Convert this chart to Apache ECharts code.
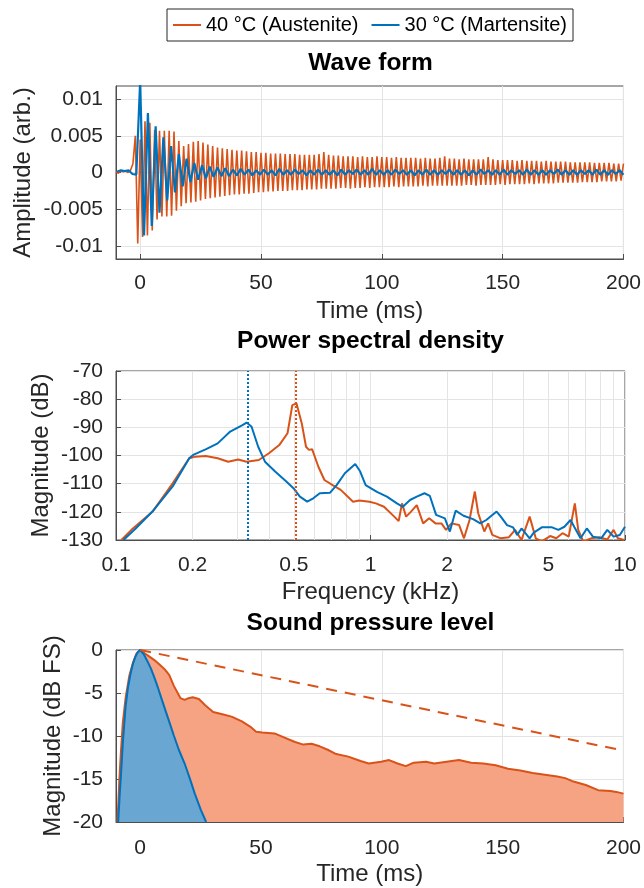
<!DOCTYPE html>
<html>
<head>
<meta charset="utf-8">
<script src="https://cdn.jsdelivr.net/npm/echarts@6/dist/echarts.min.js"></script>
<style>
html, body { margin: 0; background: #fff; }
#chart { width: 644px; height: 888px; }
</style>
</head>
<body>
<div id="chart"></div>
<script>
// ---- data ----
const NAME_A = '40 °C (Austenite)';
const NAME_M = '30 °C (Martensite)';

// wave form: orange sampled every 1 ms from -10 ms (one peak / trough per sample)
const WAVE_A_T0 = -10, WAVE_A_DT = 1;
const WAVE_A = [
  0.0001, -0.0001, 0.0002, 0.0001, 0.0002, 0.0000, 0.0003, 0.0012, 0.0050, -0.0097,
  0.0045, -0.0088, 0.0070, -0.0086, 0.0068, -0.0079, 0.0058, -0.0064, 0.0057, -0.0060,
  0.0057, -0.0060, 0.0057, -0.0059, 0.0056, -0.0052, 0.0043, -0.0046, 0.0036, -0.0042,
  0.0039, -0.0041, 0.0042, -0.0040, 0.0043, -0.0038, 0.0041, -0.0036, 0.0038, -0.0035,
  0.0036, -0.0034, 0.0034, -0.0033, 0.0033, -0.0032, 0.0032, -0.0031, 0.0031, -0.0030,
  0.0030, -0.0030, 0.0030, -0.0029, 0.0029, -0.0029, 0.0028, -0.0028, 0.0028, -0.0027,
  0.0027, -0.0027, 0.0027, -0.0026, 0.0026, -0.0026, 0.0026, -0.0025, 0.0026, -0.0025,
  0.0025, -0.0025, 0.0025, -0.0024, 0.0025, -0.0024, 0.0024, -0.0024, 0.0024, -0.0023,
  0.0024, -0.0023, 0.0024, -0.0023, 0.0025, -0.0022, 0.0028, -0.0022, 0.0024, -0.0022,
  0.0023, -0.0022, 0.0023, -0.0021, 0.0022, -0.0021, 0.0022, -0.0022, 0.0022, -0.0021,
  0.0021, -0.0021, 0.0022, -0.0020, 0.0021, -0.0021, 0.0021, -0.0020, 0.0022, -0.0020,
  0.0021, -0.0020, 0.0021, -0.0020, 0.0020, -0.0019, 0.0021, -0.0020, 0.0020, -0.0019,
  0.0020, -0.0019, 0.0020, -0.0019, 0.0020, -0.0019, 0.0019, -0.0018, 0.0020, -0.0019,
  0.0019, -0.0018, 0.0019, -0.0018, 0.0020, -0.0018, 0.0022, -0.0018, 0.0019, -0.0018,
  0.0019, -0.0018, 0.0018, -0.0018, 0.0019, -0.0017, 0.0018, -0.0017, 0.0018, -0.0018,
  0.0018, -0.0017, 0.0018, -0.0017, 0.0021, -0.0017, 0.0018, -0.0017, 0.0017, -0.0016,
  0.0017, -0.0017, 0.0017, -0.0016, 0.0017, -0.0016, 0.0016, -0.0016, 0.0017, -0.0016,
  0.0016, -0.0015, 0.0016, -0.0016, 0.0016, -0.0015, 0.0015, -0.0015, 0.0016, -0.0015,
  0.0015, -0.0015, 0.0015, -0.0014, 0.0015, -0.0014, 0.0015, -0.0014, 0.0014, -0.0014,
  0.0014, -0.0014, 0.0014, -0.0013, 0.0014, -0.0013, 0.0014, -0.0013, 0.0013, -0.0013,
  0.0013, -0.0012, 0.0013, -0.0012, 0.0013, -0.0012, 0.0012, -0.0012, 0.0012, -0.0011,
  0.0012
];
// wave form: blue sampled every 1.6 ms from -9.6 ms
const WAVE_M_T0 = -9.6, WAVE_M_DT = 1.6;
const WAVE_M = [
  0.0001, 0.0003, 0.0002, 0.0003, -0.0002, -0.0003, 0.0125, -0.0086, 0.0081, -0.0073,
  0.0063, -0.0055, 0.0048, -0.0038, 0.0036, -0.0027, 0.0025, -0.0019, 0.0019, -0.0013,
  0.0013, -0.0010, 0.0010, -0.0008, 0.0008, -0.0006, 0.0007, -0.0005, 0.0006, -0.0005,
  0.0004, -0.0004, 0.0005, -0.0003, 0.0004, -0.0004, 0.0003, -0.0003, 0.0004, -0.0003,
  0.0003, -0.0004, 0.0005, -0.0003, 0.0003, -0.0003, 0.0004, -0.0002, 0.0003, -0.0004,
  0.0003, -0.0003, 0.0004, -0.0003, 0.0003, -0.0003, 0.0003, -0.0004, 0.0004, -0.0003,
  0.0003, -0.0002, 0.0004, -0.0003, 0.0003, -0.0003, 0.0005, -0.0003, 0.0003, -0.0003,
  0.0003, -0.0003, 0.0004, -0.0002, 0.0003, -0.0003, 0.0003, -0.0004, 0.0003, -0.0003,
  0.0004, -0.0003, 0.0003, -0.0003, 0.0003, -0.0002, 0.0004, -0.0003, 0.0003, -0.0003,
  0.0003, -0.0004, 0.0003, -0.0003, 0.0004, -0.0002, 0.0003, -0.0003, 0.0003, -0.0003,
  0.0004, -0.0003, 0.0003, -0.0002, 0.0003, -0.0003, 0.0004, -0.0003, 0.0003, -0.0003,
  0.0003, -0.0003, 0.0003, -0.0002, 0.0004, -0.0003, 0.0003, -0.0003, 0.0003, -0.0003,
  0.0003, -0.0002, 0.0003, -0.0003, 0.0004, -0.0003, 0.0003, -0.0003, 0.0003, -0.0002,
  0.0003, -0.0003
];

// power spectral density (kHz, dB)
const PSD_A_F = [0.105, 0.115, 0.139, 0.167, 0.194, 0.205, 0.225, 0.251, 0.276, 0.302,
  0.326, 0.364, 0.399, 0.438, 0.472, 0.493, 0.512, 0.537, 0.558, 0.573,
  0.590, 0.624, 0.659, 0.710, 0.764, 0.854, 0.903, 0.990, 1.05, 1.13,
  1.24, 1.29, 1.33, 1.38, 1.44, 1.52, 1.61, 1.70, 1.80, 1.90,
  1.98, 2.08, 2.23, 2.33, 2.45, 2.57, 2.65, 2.80, 2.90, 3.01,
  3.25, 3.50, 3.70, 3.92, 4.22, 4.46, 4.71, 5.08, 5.37, 5.68,
  6.01, 6.35, 6.55, 6.85, 7.36, 7.93, 8.52, 9.02, 9.37, 9.93];
const PSD_A = [-130, -126.4, -120, -109.9, -101, -100.4, -100.2, -101, -102.2, -101.4,
  -102.2, -101.6, -99.2, -96.3, -92.1, -82.1, -81.5, -88.6, -96.9, -98,
  -97.8, -104, -108.7, -110.5, -112.2, -116.4, -116, -116.4, -117, -118.2,
  -121.7, -123.3, -117, -121.7, -120, -117.6, -124.1, -122.3, -124.1, -124.1,
  -126.4, -124.1, -124.7, -129.4, -122.9, -112.8, -120.5, -127, -124.1, -128.2,
  -129.4, -129, -126.4, -130, -121.7, -129.4, -130.5, -128.6, -129.4, -127.6,
  -128.8, -117, -126.4, -130.5, -129.4, -129, -129.8, -126.4, -129.4, -130];
const PSD_M_F = [0.107, 0.1195, 0.139, 0.167, 0.194, 0.201, 0.225, 0.251, 0.281, 0.314,
  0.326, 0.341, 0.362, 0.385, 0.422, 0.468, 0.498, 0.528, 0.564, 0.596,
  0.632, 0.694, 0.736, 0.793, 0.871, 0.91, 0.957, 1.06, 1.16, 1.27,
  1.34, 1.43, 1.52, 1.63, 1.71, 1.81, 1.96, 2.05, 2.16, 2.32,
  2.53, 2.70, 2.85, 3.13, 3.25, 3.44, 3.63, 3.77, 3.92, 4.22,
  4.38, 4.71, 5.17, 5.47, 5.78, 6.11, 6.33, 6.69, 7.08, 7.48,
  8.06, 8.52, 9.02, 9.54, 10];
const PSD_M = [-130, -125.9, -119.9, -111, -101, -99.8, -97.8, -95.7, -91.5, -89.2,
  -88.3, -89.8, -96.9, -102.2, -105.7, -109.3, -111.6, -114.6, -116.4, -115.2,
  -113.4, -113.2, -110.5, -106.3, -103, -105.6, -110.5, -112.9, -114.6, -117,
  -118.2, -115.8, -114.6, -113.4, -114.3, -121.1, -122.3, -127, -119.6, -121.4,
  -122.6, -124.1, -122.9, -119.9, -121.7, -124.7, -125.5, -128.2, -125.9, -129.4,
  -127.4, -125.5, -125.5, -126.4, -125.3, -122.9, -125.5, -129.4, -125.9, -128.8,
  -129.4, -126.4, -128.8, -128.2, -125.3];
const PEAK_A = 0.505, PEAK_M = 0.328;

// sound pressure level (ms, dB FS)
const SPL_A_T = [-9.4, -8.6, -8, -7.2, -6, -4.5, -3, -1.5, 0,
  2, 4, 6, 8, 10, 12, 14, 16.7, 18.4, 20, 21.7, 24.3, 26.8,
  30.2, 34.4, 37.8, 42.1, 45.5, 48, 50.5, 55.6, 59, 64.1, 67.5, 70.9, 74.3, 77.6, 81.1,
  86.1, 91.2, 94.6, 99.7, 103, 106.5, 109.9, 113.2, 118.3, 121.7, 126.8, 131.9, 137, 142, 147.1,
  152.2, 157.3, 162.4, 167.5, 172.6, 175.9, 179.3, 184.4, 189.5, 194.6, 197, 200];
const SPL_A = [-20, -15, -12, -8.5, -5.5, -3, -1.5, -0.4, 0,
  -0.4, -0.8, -1.2, -1.7, -2.2, -2.9, -4.2, -5.6, -5.8, -5.6, -5.5, -5.7, -6.4,
  -7.2, -7.5, -7.75, -8.3, -8.9, -9.5, -9.6, -9.7, -10.1, -10.7, -11.0, -10.9, -11.2, -11.6, -12.1,
  -12.4, -12.9, -13.2, -13.0, -12.8, -13.2, -13.5, -13.1, -13.0, -13.2, -13.0, -12.8, -13.1, -13.2, -13.4,
  -13.8, -14.0, -14.3, -14.5, -14.7, -14.9, -15.3, -15.7, -16.3, -16.4, -16.5, -16.7];
const SPL_M_T = [-9.1, -8.5, -7.9, -7.1, -6, -5, -4, -3, -2, -1, 0,
  1.5, 3, 4.5, 6, 7.5, 9, 11.5, 14, 16, 18.4, 20.5, 22.6, 25.1, 27.3];
const SPL_M = [-20, -17, -14.3, -10.5, -6.5, -4.3, -2.8, -1.6, -0.8, -0.25, 0,
  -0.5, -1.3, -2.2, -3.3, -4.5, -5.8, -7.9, -10, -11.6, -13.2, -14.9, -16.7, -18.6, -20];
const SPL_REF_T = [0, 200];
const SPL_REF = [0, -11.7];

// tick labels
const TIME_TICKS = [0, 50, 100, 150, 200];
const AMP_TICKS = [-0.01, -0.005, 0, 0.005, 0.01];
const FREQ_LABELS = [0.2, 0.5, 2, 5];
const FREQ_MINOR = [0.3, 0.4, 0.6, 0.7, 0.8, 0.9, 3, 4, 6, 7, 8, 9];

// ---- styling ----
const FONT = 'Liberation Sans, Arial, sans-serif';
const ORANGE = '#D95319', BLUE = '#0072BD';
const ORANGE_FILL = '#F5A383', BLUE_FILL = '#6AA6D2';
const AXIS_C = '#4d4d4d', TEXT_C = '#262626', GRID_C = '#e4e4e4';

const GRIDS = [
  { left: 116, top: 86, width: 509, height: 173 },
  { left: 116, top: 371, width: 509, height: 169 },
  { left: 116, top: 650, width: 509, height: 172 }
];

function zip(xs, ys) { return xs.map((x, i) => [x, ys[i]]); }
function sampled(t0, dt, vs) { return vs.map((v, i) => [t0 + i * dt, v]); }

function labelStyle(margin) {
  return { fontSize: 21, color: TEXT_C, fontFamily: FONT, margin: margin };
}
function nameStyle() { return { fontSize: 24, color: TEXT_C, fontFamily: FONT }; }

function xAxisCfg(gi, name, type, min, max, ticks, margin) {
  const label = labelStyle(margin);
  const tick = { inside: true, length: 5, lineStyle: { color: AXIS_C } };
  if (ticks) { label.customValues = ticks; tick.customValues = ticks; }
  return {
    gridIndex: gi, type: type, min: min, max: max,
    name: name, nameLocation: 'middle', nameGap: 40, nameMoveOverlap: false,
    nameTextStyle: nameStyle(),
    axisLine: { onZero: false, lineStyle: { color: AXIS_C } },
    axisTick: tick, axisLabel: label,
    splitLine: { show: true, lineStyle: { color: GRID_C } }
  };
}
function yAxisCfg(gi, name, gap, min, max, interval, ticks, fmt) {
  const label = labelStyle(13);
  const tick = { inside: true, length: 5, lineStyle: { color: AXIS_C } };
  if (ticks) { label.customValues = ticks; tick.customValues = ticks; }
  if (fmt) label.formatter = fmt;
  const ax = {
    gridIndex: gi, type: 'value', min: min, max: max,
    name: name, nameLocation: 'middle', nameGap: gap, nameMoveOverlap: false,
    nameTextStyle: nameStyle(),
    axisLine: { show: true, onZero: false, lineStyle: { color: AXIS_C } },
    axisTick: tick, axisLabel: label,
    splitLine: { show: true, lineStyle: { color: GRID_C } }
  };
  if (interval) ax.interval = interval;
  return ax;
}
function titleCfg(text, top) {
  return {
    text: text, left: 370.5, top: top, textAlign: 'center', padding: 0,
    textStyle: { fontSize: 24.5, fontWeight: 'bold', color: '#000', fontFamily: FONT }
  };
}
function lineSeries(name, gi, color, data, width) {
  return {
    type: 'line', name: name, xAxisIndex: gi, yAxisIndex: gi, data: data,
    symbol: 'none', color: color, lineStyle: { color: color, width: width },
    silent: true
  };
}

const chart = echarts.init(document.getElementById('chart'), null, { renderer: 'canvas' });

const psdA = lineSeries(NAME_A, 1, ORANGE, zip(PSD_A_F, PSD_A), 2);
psdA.markLine = {
  silent: true, symbol: ['none', 'none'], animation: false,
  lineStyle: { color: ORANGE, type: 'dotted', width: 2 },
  label: { show: false }, emphasis: { disabled: true },
  data: [{ xAxis: PEAK_A }]
};
const psdM = lineSeries(NAME_M, 1, BLUE, zip(PSD_M_F, PSD_M), 2);
psdM.markLine = {
  silent: true, symbol: ['none', 'none'], animation: false,
  lineStyle: { color: BLUE, type: 'dotted', width: 2 },
  label: { show: false }, emphasis: { disabled: true },
  data: [{ xAxis: PEAK_M }]
};
// log-axis grid lines and the extra frequency labels
const psdGrid = {
  type: 'line', name: 'log grid', xAxisIndex: 1, yAxisIndex: 1, data: [], silent: true,
  markLine: {
    silent: true, symbol: ['none', 'none'], animation: false, z: 1,
    lineStyle: { color: GRID_C, type: 'solid', width: 1 },
    label: { show: false }, emphasis: { disabled: true },
    data: FREQ_MINOR.map(f => ({ xAxis: f })).concat(FREQ_LABELS.map(f => ({
      xAxis: f,
      label: { show: true, position: 'start', formatter: String(f), distance: 15,
        fontSize: 21, color: TEXT_C, fontFamily: FONT }
    })))
  }
};

const splA = lineSeries(NAME_A, 2, ORANGE, zip(SPL_A_T, SPL_A), 2);
splA.areaStyle = { color: ORANGE_FILL, opacity: 1, origin: 'start' };
const splM = lineSeries(NAME_M, 2, BLUE, zip(SPL_M_T, SPL_M), 2);
splM.areaStyle = { color: BLUE_FILL, opacity: 1, origin: 'start' };
const splRef = lineSeries('decay', 2, ORANGE, zip(SPL_REF_T, SPL_REF), 2);
splRef.lineStyle.type = [11, 8];

const ampFmt = v => String(parseFloat(Number(v).toFixed(6)));

chart.setOption({
  animation: false,
  backgroundColor: '#fff',
  title: [
    titleCfg('Wave form', 51),
    titleCfg('Power spectral density', 329),
    titleCfg('Sound pressure level', 611)
  ],
  legend: {
    data: [NAME_A, NAME_M],
    left: 167, top: 9, padding: [6, 6], itemGap: 13,
    icon: 'rect', itemWidth: 28, itemHeight: 2,
    borderColor: TEXT_C, borderWidth: 1, backgroundColor: '#fff',
    textStyle: { fontSize: 20, color: '#000', fontFamily: FONT },
    selectedMode: false
  },
  grid: GRIDS.map(g => Object.assign({ show: true, borderColor: AXIS_C, borderWidth: 1,
    backgroundColor: 'transparent', containLabel: false }, g)),
  xAxis: [
    xAxisCfg(0, 'Time (ms)', 'value', -10, 200, TIME_TICKS, 14),
    Object.assign(xAxisCfg(1, 'Frequency (kHz)', 'log', 0.1, 10, null, 15), { logBase: 10 }),
    xAxisCfg(2, 'Time (ms)', 'value', -10, 200, TIME_TICKS, 16)
  ],
  yAxis: [
    yAxisCfg(0, 'Amplitude (arb.)', 81, -0.0118, 0.0118, null, AMP_TICKS, ampFmt),
    yAxisCfg(1, 'Magnitude (dB)', 63, -130, -70, 10, null, null),
    yAxisCfg(2, 'Magnitude (dB FS)', 51, -20, 0, 5, null, null)
  ],
  series: [
    lineSeries(NAME_A, 0, ORANGE, sampled(WAVE_A_T0, WAVE_A_DT, WAVE_A), 1.6),
    lineSeries(NAME_M, 0, BLUE, sampled(WAVE_M_T0, WAVE_M_DT, WAVE_M), 2.2),
    psdGrid,
    psdA,
    psdM,
    splA,
    splM,
    splRef
  ]
});
</script>
</body>
</html>
